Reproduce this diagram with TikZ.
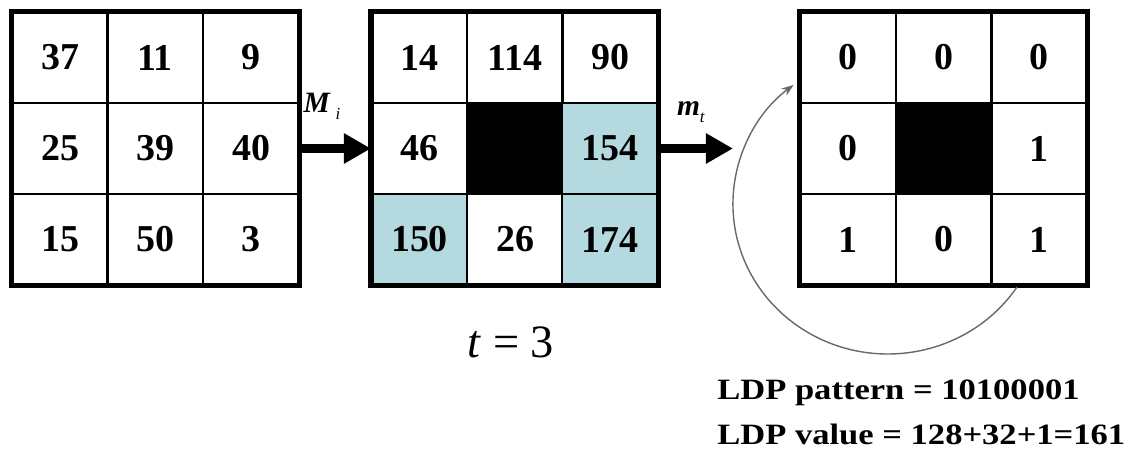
\documentclass[tikz,border=0pt]{standalone}
\usepackage{fontspec}
\setmainfont{Liberation Serif}
\usepackage{tikz}
\usetikzlibrary{arrows.meta,positioning}
\definecolor{cellblue}{RGB}{180,217,222}
\definecolor{curvegray}{RGB}{105,105,105}
\tikzset{
  gridcell/.style={rectangle, draw=black, line width=1pt, minimum width=2.39cm, minimum height=2.275cm, inner sep=0pt, font=\fontsize{27}{30}\selectfont\bfseries},
  bluecell/.style={gridcell, fill=cellblue},
  darkcell/.style={gridcell, fill=black},
  gridframe/.style={draw=black, line width=3.6pt},
  bigarrow/.style={-{Triangle[length=0.68cm, width=0.72cm]}, line width=0.24cm},
  turnarrow/.style={-{Stealth[length=3mm, width=2.2mm]}, draw=curvegray, line width=1pt},
  steplabel/.style={inner sep=0pt, font=\fontsize{21}{24}\selectfont},
  resultline/.style={anchor=west, inner sep=0pt, font=\fontsize{21}{25}\selectfont\bfseries}
}
\begin{document}
\begin{tikzpicture}[x=0.025cm, y=-0.025cm]
\useasboundingbox (0,0) rectangle (1144,452);
% input patch
\node[gridcell] (a11) at (60,57.5) {37};
\node[gridcell] (a12) at (155,57.5) {11};
\node[gridcell] (a13) at (251,57.5) {9};
\node[gridcell] (a21) at (60,148.5) {25};
\node[gridcell] (a22) at (155,148.5) {39};
\node[gridcell] (a23) at (251,148.5) {40};
\node[gridcell] (a31) at (60,239.5) {15};
\node[gridcell] (a32) at (155,239.5) {50};
\node[gridcell] (a33) at (251,239.5) {3};
\draw[gridframe] (a11.north west) rectangle (a33.south east);
% masked responses
\node[gridcell] (b11) at (419.5,57.5) {14};
\node[gridcell] (b12) at (515,57.5) {114};
\node[gridcell] (b13) at (610,57.5) {90};
\node[gridcell] (b21) at (419.5,148.5) {46};
\node[darkcell] (b22) at (515,148.5) {};
\node[bluecell] (b23) at (610,148.5) {154};
\node[bluecell] (b31) at (419.5,239.5) {150};
\node[gridcell] (b32) at (515,239.5) {26};
\node[bluecell] (b33) at (610,239.5) {174};
\draw[gridframe] (b11.north west) rectangle (b33.south east);
% binary code
\node[gridcell] (c11) at (848,57.5) {0};
\node[gridcell] (c12) at (944,57.5) {0};
\node[gridcell] (c13) at (1039,57.5) {0};
\node[gridcell] (c21) at (848,148.5) {0};
\node[darkcell] (c22) at (944,148.5) {};
\node[gridcell] (c23) at (1039,148.5) {1};
\node[gridcell] (c31) at (848,239.5) {1};
\node[gridcell] (c32) at (944,239.5) {0};
\node[gridcell] (c33) at (1039,239.5) {1};
\draw[gridframe] (c11.north west) rectangle (c33.south east);
% arrows and labels
\coordinate (mtend) at (733,148.5);
\draw[bigarrow] (a23.east) -- (b21.west);
\draw[bigarrow] (b23.east) -- (mtend);
\node[steplabel] (mlabel) at (322,106) {\textbf{\textit{M}}\,\raisebox{-0.5ex}{\fontsize{12}{12}\selectfont\textit{i}}};
\node[steplabel] (tlabel) at (691,112) {\textbf{\textit{m}}\raisebox{-0.5ex}{\fontsize{12}{12}\selectfont\textit{t}}};
\node[inner sep=0pt, font=\fontsize{33}{36}\selectfont] (tval) at (511,342) {\textit{t} = 3};
\coordinate (turnstart) at (1017,287);
\draw[turnarrow] (turnstart) arc[start angle=33.6, end angle=232.5, x radius=155, y radius=150];
\node[resultline] (pattern) at (717,393) {\scalebox{1.17}[1]{LDP pattern = 10100001}};
\node[resultline] (value) at (717,434) {\scalebox{1.17}[1]{LDP value = 128+32+1=161}};
\end{tikzpicture}
\end{document}
